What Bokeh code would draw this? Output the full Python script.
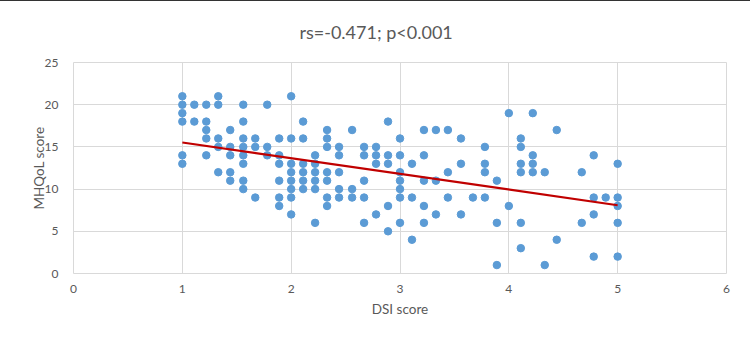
import numpy as np
from bokeh.plotting import figure
from bokeh.models import Range1d, FixedTicker, Title
from bokeh.embed import file_html
from bokeh.resources import INLINE

# DSI score levels (steps of 1/9) and the MHQoL scores observed at each level
dsi_levels = [1.00, 1.11, 1.22, 1.33, 1.44, 1.56, 1.67, 1.78, 1.89,
              2.00, 2.11, 2.22, 2.33, 2.44, 2.56, 2.67, 2.78, 2.89,
              3.00, 3.11, 3.22, 3.33, 3.44, 3.56, 3.67, 3.78, 3.89,
              4.00, 4.11, 4.22, 4.33, 4.44, 4.56, 4.67, 4.78, 4.89, 5.00]
mhqol_by_level = [
    [21, 20, 19, 18, 14, 13],
    [20, 18],
    [20, 18, 17, 16, 14],
    [21, 20, 16, 15, 12],
    [17, 15, 14, 12, 11],
    [20, 18, 16, 15, 14, 13, 11, 10],
    [16, 15, 9],
    [20, 15, 14],
    [16, 14, 13, 11, 9, 8],
    [21, 16, 13, 12, 11, 10, 9, 7],
    [18, 16, 13, 12, 11, 10],
    [14, 13, 12, 11, 10, 6],
    [17, 16, 15, 12, 11, 9, 8],
    [15, 14, 12, 10, 9],
    [17, 10, 9],
    [15, 14, 11, 9, 6],
    [15, 14, 13, 7],
    [18, 14, 13, 8, 5],
    [16, 14, 12, 11, 10, 9, 6],
    [13, 9, 4],
    [17, 14, 11, 8, 6],
    [17, 11, 7],
    [17, 12, 9],
    [16, 13, 7],
    [9],
    [15, 13, 12, 9],
    [11, 6, 1],
    [19, 8],
    [16, 15, 13, 12, 6, 3],
    [19, 14, 13, 12],
    [12, 1],
    [17, 4],
    [],
    [12, 6],
    [14, 9, 7, 2],
    [9],
    [13, 9, 8, 6, 2],
]
x_ticks = [0, 1, 2, 3, 4, 5, 6]
y_ticks = [0, 5, 10, 15, 20, 25]
title_text = "rs=-0.471; p<0.001"

dsi = [lv for lv, ys in zip(dsi_levels, mhqol_by_level) for _ in ys]
mhqol = [y for ys in mhqol_by_level for y in ys]

# least-squares trend line over the observed DSI range
slope, intercept = np.polyfit(dsi, mhqol, 1)
trend_x = [min(dsi), max(dsi)]
trend_y = [intercept + slope * v for v in trend_x]

FONT = "Lato"
GREY = "#595959"
GRID = "#d9d9d9"

p = figure(width=750, height=340, output_backend="svg", toolbar_location=None,
           x_range=Range1d(0, 6), y_range=Range1d(0, 25),
           min_border_left=73, min_border_right=24, min_border_top=61,
           min_border_bottom=68, title=None)
p.styles = {"border-top": "1px solid #333333"}

p.add_layout(Title(text=title_text, align="left", offset=226,
                   vertical_align="top",
                   text_font=FONT, text_font_size="18px",
                   text_color=GREY, text_font_style="normal",
                   standoff=36), "above")

p.scatter(dsi, mhqol, size=7.5, color="#5b9bd5", line_color="#5b9bd5")
p.line(trend_x, trend_y, line_color="#c00000", line_width=2.2)

p.xaxis.ticker = FixedTicker(ticks=x_ticks)
p.yaxis.ticker = FixedTicker(ticks=y_ticks)
p.xaxis.axis_label = "DSI score"
p.yaxis.axis_label = "MHQoL score"
for ax in (p.xaxis, p.yaxis):
    ax.axis_line_color = None
    ax.major_tick_line_color = None
    ax.minor_tick_line_color = None
    ax.major_label_text_font = FONT
    ax.major_label_text_font_size = "12px"
    ax.major_label_text_color = GREY
    ax.axis_label_text_font = FONT
    ax.axis_label_text_font_size = "13.5px"
    ax.axis_label_text_color = GREY
    ax.axis_label_text_font_style = "normal"
p.xaxis.major_label_standoff = 5
p.yaxis.major_label_standoff = 9
p.xaxis.axis_label_standoff = 5
p.yaxis.axis_label_standoff = -5

p.xgrid.ticker = FixedTicker(ticks=x_ticks)
p.ygrid.ticker = FixedTicker(ticks=y_ticks)
p.grid.grid_line_color = GRID
p.grid.grid_line_width = 1
p.outline_line_color = GRID
p.outline_line_width = 1

open("out.html", "w").write(file_html(p, INLINE))
